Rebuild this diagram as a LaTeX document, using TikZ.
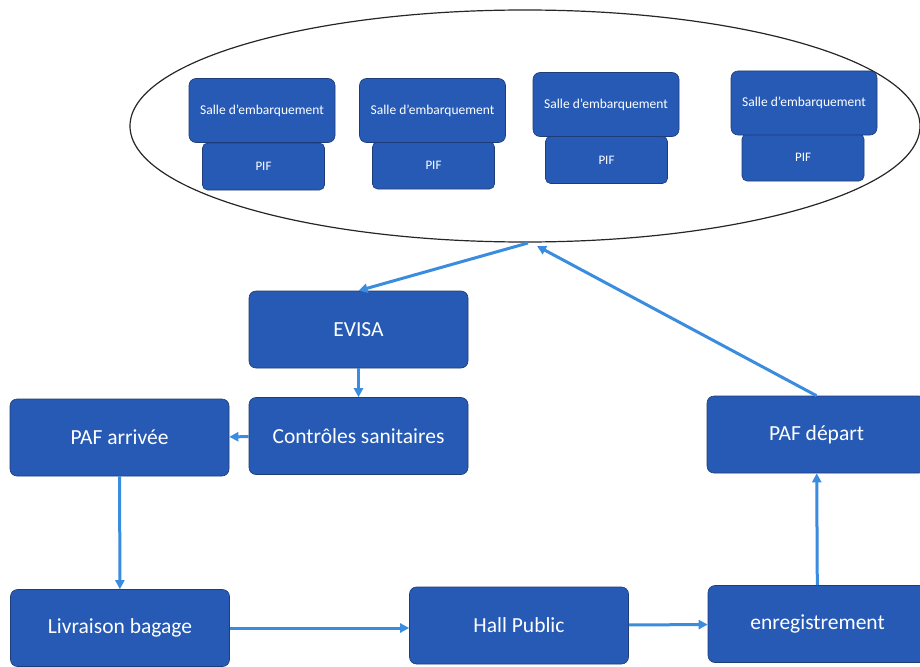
\documentclass[tikz,border=0pt]{standalone}
\usepackage{fontspec}
\setmainfont{Carlito}
\usetikzlibrary{shapes.geometric,arrows.meta}
\definecolor{boxblue}{RGB}{38,90,180}
\definecolor{boxline}{RGB}{30,60,120}
\definecolor{arrowblue}{RGB}{58,140,222}
\begin{document}
\begin{tikzpicture}[x=1pt,y=-1pt,semithick,>={Triangle[length=9pt,width=9pt]}]
\tikzset{ every node/.style={rectangle, rounded corners=7pt, draw=boxline, fill=boxblue, text=white, inner sep=0pt}}
\tikzstyle{bigbox}=[minimum width=219pt, minimum height=77pt, font=\fontsize{21.5}{24}\selectfont]
\tikzstyle{salle}=[minimum width=146pt, minimum height=64pt, font=\fontsize{13.5}{15}\selectfont]
\tikzstyle{pif}=[minimum width=122pt, minimum height=47pt, rounded corners=5pt, font=\fontsize{13}{15}\selectfont]
\tikzstyle{zone}=[ellipse, draw=black!85, fill=white, line width=1.2pt, minimum width=790pt, minimum height=232pt]
\tikzstyle{ed}=[draw=arrowblue, line width=3pt, ->]
\useasboundingbox (0,0) rectangle (920,666);
% zone embarquement
\node[zone] (ell) at (525,126) {};
\node[pif] (pif1) at (263.5,166.5) {PIF};
\node[salle] (salle1) at (262,110.5) {Salle d'embarquement};
\node[pif] (pif2) at (433.5,165.5) {PIF};
\node[salle] (salle2) at (432.5,110.5) {Salle d'embarquement};
\node[pif] (pif3) at (606.5,160) {PIF};
\node[salle] (salle3) at (606,104.5) {Salle d'embarquement};
\node[pif] (pif4) at (803,157.5) {PIF};
\node[salle] (salle4) at (804,103) {Salle d'embarquement};
% vertices
\node[bigbox] (evisa) at (358.5,329.5) {EVISA};
\node[bigbox] (ctrl) at (358.5,436) {Contrôles sanitaires};
\node[bigbox] (pafa) at (119.5,437.5) {PAF arrivée};
\node[bigbox] (pafd) at (816.5,434.5) {PAF départ};
\node[bigbox] (livr) at (120,628) {Livraison bagage};
\node[bigbox] (hall) at (519,625.5) {Hall Public};
\node[bigbox] (enr) at (817.5,624) {enregistrement};
\coordinate (s1) at (528,243);
\coordinate (s2) at (537,246);
\draw[ed] (s1) -- (evisa.north);
\draw[ed] (pafd.north) -- (s2);
\draw[ed] (evisa) -- (ctrl);
\draw[ed] (ctrl) -- (pafa);
\draw[ed] (pafa) -- (livr);
\draw[ed] (livr.east) -- (livr.east -| hall.west);
\draw[ed] (hall) -- (enr);
\draw[ed] (enr) -- (pafd);
\end{tikzpicture}
\end{document}
